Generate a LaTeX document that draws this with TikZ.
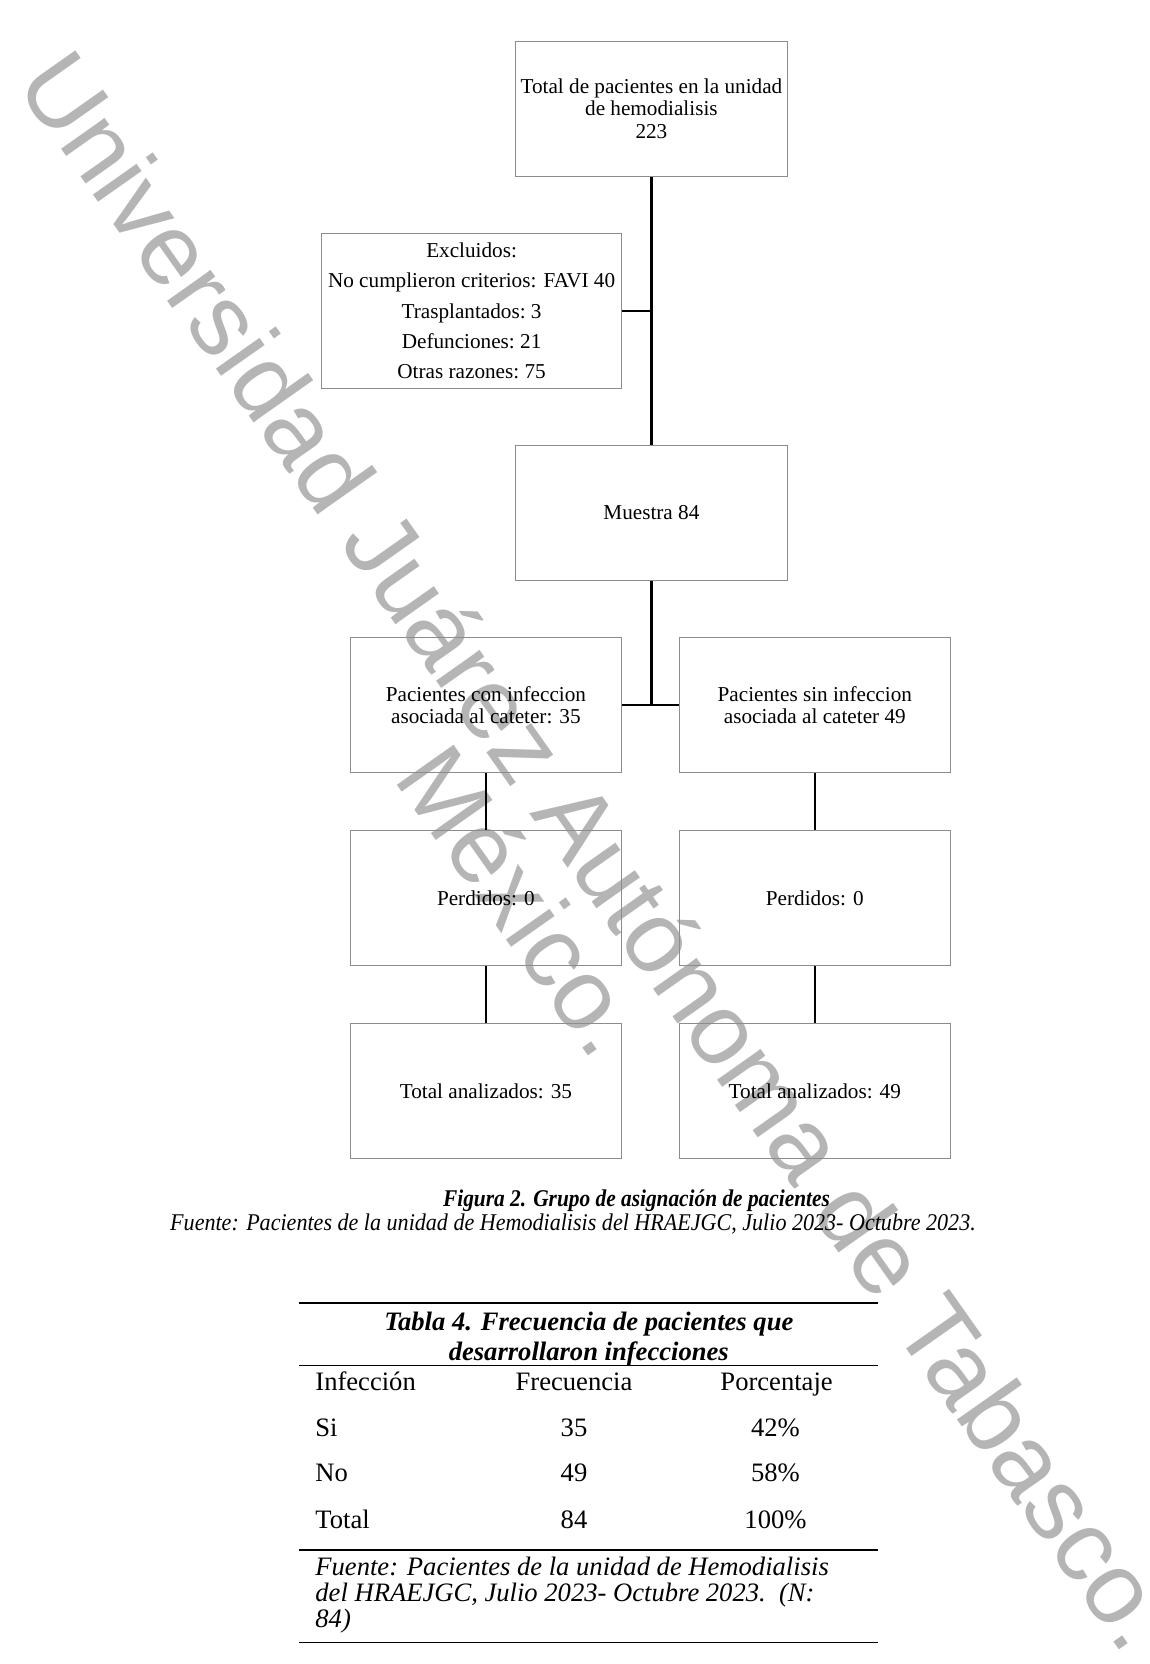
\documentclass[tikz,border=0pt]{standalone}
\usepackage{fontspec}
\setmainfont{Liberation Serif}
\newfontfamily\wmfont{Liberation Sans}
\usepackage{graphicx}
\usepackage{tikz}
\usetikzlibrary{calc,positioning}
\tikzset{%
  box/.style={draw=boxgray,line width=0.5pt,minimum width=135.8pt,minimum height=67.35pt,align=center,inner sep=0pt,font=\fontsize{10.6}{11.2}\selectfont},
  link/.style={line width=1.1pt},
  rule/.style={line width=0.8pt},
  cell/.style={anchor=base,inner sep=0pt,font=\fontsize{13.3}{14.3}\selectfont},
  caption/.style={inner sep=0pt,font=\fontsize{12}{13}\selectfont},
  wm/.style={anchor=base,inner sep=0pt,rotate=-54.8,text=wmgray,font=\wmfont\fontsize{50.5}{60}\selectfont},
}
\definecolor{boxgray}{HTML}{8C8C8C}
\definecolor{wmgray}{HTML}{B5B5B5}

\begin{document}
\begin{tikzpicture}[x=0.5pt,y=-0.5pt]
      \useasboundingbox (0,0) rectangle (1150,1664);

      \node[wm] (node_wm) at (570,871) {Universidad Juárez Autónoma de Tabasco.};
      \node[wm] (node_wm_mx) at (493,921) {México.};

      \node[box] (node_total) at (651.4,108.75) {Total de pacientes en la unidad\\de hemodialisis\\223};
      \node[box,minimum width=150.1pt,minimum height=77.5pt,font=\fontsize{10.6}{15.2}\selectfont] (node_excl) at (471.6,310.85) {Excluidos:\\No cumplieron criterios: FAVI 40\\Trasplantados:\ 3\\Defunciones:\ 21\\Otras razones:\ 75};
      \node[box] (node_muestra) at (651.4,512.95) {Muestra 84};

      \node[box] (node_con) at (485.9,704.95) {Pacientes con infeccion\\asociada al cateter: 35};
      \node[box] (node_sin) at (814.8,704.95) {Pacientes sin infeccion\\asociada al cateter 49};

      \node[box] (node_perd_con) at (485.9,898.05) {Perdidos: 0};
      \node[box] (node_perd_sin) at (814.8,898.05) {Perdidos: 0};

      \node[box] (node_tot_con) at (485.9,1091.15) {Total analizados: 35};
      \node[box] (node_tot_sin) at (814.8,1091.15) {Total analizados: 49};

      \draw[link] (node_total) -- (node_muestra);
      \draw[link] (node_excl) -- (node_excl -| node_total);
      \draw[link] (node_muestra) -- (node_muestra |- node_con);
      \draw[link] (node_con) -- (node_sin);
      \draw[link] (node_con) -- (node_perd_con);
      \draw[link] (node_sin) -- (node_perd_sin);
      \draw[link] (node_perd_con) -- (node_tot_con);
      \draw[link] (node_perd_sin) -- (node_tot_sin);

      \node[caption] (node_fig) at (636.5,1201) {\scalebox{0.89}[1]{\bfseries\itshape Figura 2. Grupo de asignación de pacientes}};
      \node[caption] (node_src) at (573,1224) {\scalebox{0.92}[1]{\itshape Fuente: Pacientes de la unidad de Hemodialisis del HRAEJGC, Julio 2023- Octubre 2023.}};

      \foreach \y in {1302.8,1365.4,1550,1642.3}
        \draw[rule] (299.2,\y) -- (878.4,\y);
      \node[inner sep=0pt,align=center,font=\bfseries\itshape\fontsize{13.3}{14.8}\selectfont] (tab_title) at (588.8,1339) {Tabla 4. Frecuencia de pacientes que\\desarrollaron infecciones};
      \node[cell,anchor=base west] (head_inf) at (315,1390) {Infección};
      \node[cell] (head_frq) at (574,1390) {Frecuencia};
      \node[cell] (head_pct) at (776.6,1390) {Porcentaje};
      \foreach \lab/\frq/\pct/\y in {Si/35/42\%/1436,No/49/58\%/1481.6,Total/84/100\%/1528.3} {
        \node[cell,anchor=base west] (row_\lab) at (315,\y) {\lab};
        \node[cell] (frq_\lab) at (574,\y) {\frq};
        \node[cell] (pct_\lab) at (775.5,\y) {\pct};
      }
      \node[inner sep=0pt,anchor=west,align=left,font=\itshape\fontsize{13.3}{13}\selectfont] (tab_src) at (315,1595.5) {Fuente: Pacientes de la unidad de Hemodialisis\\del HRAEJGC, Julio 2023- Octubre 2023.\ \ (N:\\84)};
    \end{tikzpicture}
\end{document}
